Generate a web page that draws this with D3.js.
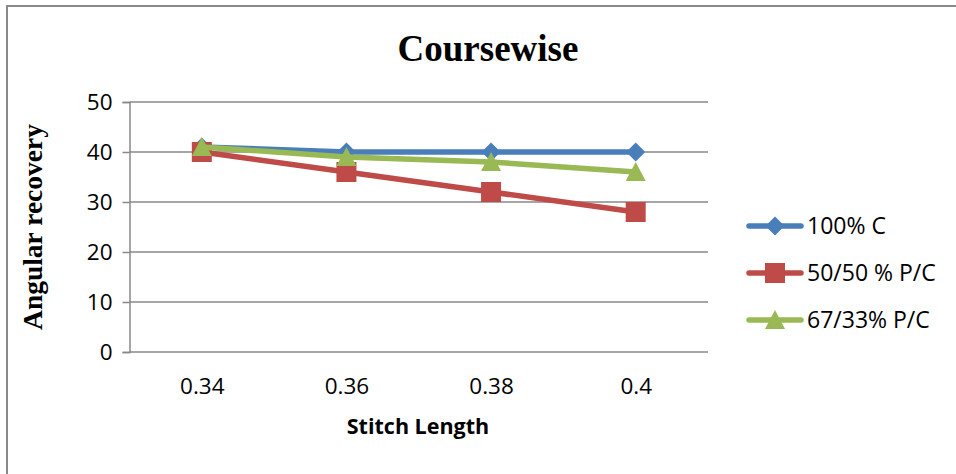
<!DOCTYPE html>
<html>
<head>
<meta charset="utf-8">
<script src="https://cdn.jsdelivr.net/npm/d3@7"></script>
<style>
  html, body { margin: 0; padding: 0; background: #fff; }
  svg { display: block; }
</style>
</head>
<body>
<svg id="chart" width="956" height="474"></svg>
<script>
// Stitch length categories and angular recovery per fabric blend
const categories = ["0.34", "0.36", "0.38", "0.4"];
const cotton100 = [41, 40, 40, 40];
const pc5050 = [40, 36, 32, 28];
const pc6733 = [41, 39, 38, 36];
const seriesNames = ["100% C", "50/50 % P/C", "67/33% P/C"];
const yTicks = [0, 10, 20, 30, 40, 50];

const series = [
  { name: seriesNames[0], values: cotton100, color: "#4a7ebb", marker: "diamond" },
  { name: seriesNames[1], values: pc5050, color: "#be4b48", marker: "square" },
  { name: seriesNames[2], values: pc6733, color: "#98b954", marker: "triangle" }
];

const svg = d3.select("#chart");
const plot = { left: 129.5, right: 708, top: 102, bottom: 352 };

const x = d3.scalePoint().domain(categories).range([plot.left, plot.right]).padding(0.5);
const y = d3.scaleLinear().domain([0, 50]).range([plot.bottom, plot.top]);

// Outer chart frame (left and top edges)
svg.append("path")
  .attr("d", "M7,474 V6 H956")
  .attr("fill", "none")
  .attr("stroke", "#898989")
  .attr("stroke-width", 2);

// Title
svg.append("text")
  .attr("x", 488).attr("y", 61)
  .attr("text-anchor", "middle")
  .attr("font-family", "'Liberation Serif', 'Times New Roman', serif")
  .attr("font-weight", "bold")
  .attr("font-size", 37)
  .attr("fill", "#000")
  .text("Coursewise");

// Horizontal gridlines
svg.append("g")
  .selectAll("line")
  .data(yTicks.filter(d => d > 0))
  .join("line")
  .attr("x1", plot.left).attr("x2", plot.right)
  .attr("y1", d => y(d)).attr("y2", d => y(d))
  .attr("stroke", "#888")
  .attr("stroke-width", 1.5);

// Y axis
const yAxis = svg.append("g")
  .attr("transform", `translate(${plot.left},0)`)
  .call(d3.axisLeft(y).tickValues(yTicks).tickSize(7).tickPadding(10));
yAxis.select(".domain").attr("stroke", "#888").attr("stroke-width", 1.5);
yAxis.selectAll(".tick line").attr("stroke", "#888").attr("stroke-width", 1.5);
yAxis.selectAll(".tick text")
  .attr("font-family", "'Open Sans', sans-serif")
  .attr("font-size", 22.5)
  .attr("fill", "#000");

// X axis
const xAxis = svg.append("g")
  .attr("transform", `translate(0,${plot.bottom})`)
  .call(d3.axisBottom(x).tickSize(0).tickPadding(26));
xAxis.select(".domain")
  .attr("d", `M${plot.left},0H${plot.right}`)
  .attr("stroke", "#888").attr("stroke-width", 1.5);
xAxis.selectAll(".tick text")
  .attr("font-family", "'Open Sans', sans-serif")
  .attr("font-size", 22.5)
  .attr("fill", "#000");

// Axis titles
svg.append("text")
  .attr("x", 418).attr("y", 434)
  .attr("text-anchor", "middle")
  .attr("font-family", "'Open Sans', sans-serif")
  .attr("font-weight", "bold")
  .attr("font-size", 21.5)
  .attr("fill", "#000")
  .text("Stitch Length");

svg.append("text")
  .attr("transform", "translate(42,227) rotate(-90)")
  .attr("text-anchor", "middle")
  .attr("font-family", "'Liberation Serif', 'Times New Roman', serif")
  .attr("font-weight", "bold")
  .attr("font-size", 27.5)
  .attr("fill", "#000")
  .text("Angular recovery");

// Marker shapes
function markerPath(type) {
  if (type === "diamond") return "M0,-9.5L9.5,0L0,9.5L-9.5,0Z";
  if (type === "square") return "M-10,-10H10V10H-10Z";
  return "M0,-10L10,9H-10Z";
}

const line = d3.line()
  .x((d, i) => x(categories[i]))
  .y(d => y(d));

const lines = svg.append("g");
series.forEach(s => {
  const g = lines.append("g");
  g.append("path")
    .attr("d", line(s.values))
    .attr("fill", "none")
    .attr("stroke", s.color)
    .attr("stroke-width", 5.5)
    .attr("stroke-linejoin", "round")
    .attr("stroke-linecap", "round");
  g.selectAll("path.marker")
    .data(s.values)
    .join("path")
    .attr("class", "marker")
    .attr("transform", (d, i) => `translate(${x(categories[i])},${y(d)})`)
    .attr("d", markerPath(s.marker))
    .attr("fill", s.color);
});

// Legend
const legend = svg.append("g");
const legendRows = [226, 273, 320];
series.forEach((s, i) => {
  const g = legend.append("g").attr("transform", `translate(0,${legendRows[i]})`);
  g.append("line")
    .attr("x1", 749).attr("x2", 801)
    .attr("y1", 0).attr("y2", 0)
    .attr("stroke", s.color)
    .attr("stroke-width", 5.5)
    .attr("stroke-linecap", "round");
  g.append("path")
    .attr("transform", "translate(775,0)")
    .attr("d", markerPath(s.marker))
    .attr("fill", s.color);
  g.append("text")
    .attr("x", 807).attr("y", 0)
    .attr("dy", "0.35em")
    .attr("font-family", "'Open Sans', sans-serif")
    .attr("font-size", 23)
    .attr("fill", "#000")
    .text(s.name);
});
</script>
</body>
</html>
